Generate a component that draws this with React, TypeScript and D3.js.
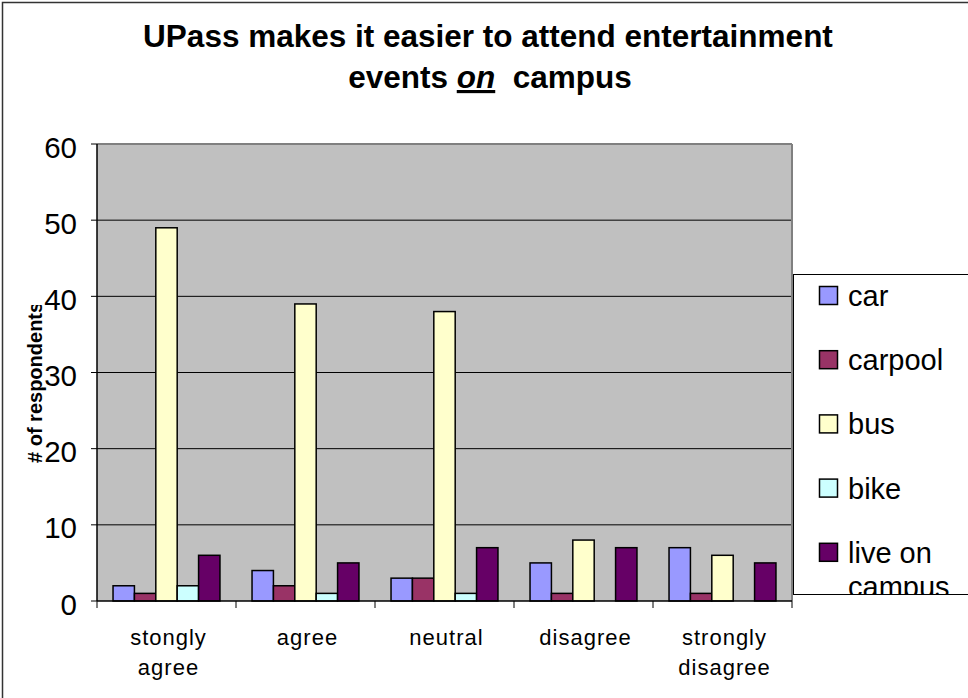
import React from "react";
import * as d3 from "d3";

const categories = ["stongly agree", "agree", "neutral", "disagree", "strongly disagree"];
const categoryLines = [["stongly", "agree"], ["agree"], ["neutral"], ["disagree"], ["strongly", "disagree"]];
const seriesNames = ["car", "carpool", "bus", "bike", "live on campus"];
const legendLines = [["car"], ["carpool"], ["bus"], ["bike"], ["live on", "campus"]];
const car = [2, 4, 3, 5, 7];
const carpool = [1, 2, 3, 1, 1];
const bus = [49, 39, 38, 8, 6];
const bike = [2, 1, 1, 0, 0];
const liveOnCampus = [6, 5, 7, 7, 5];
const seriesValues = [car, carpool, bus, bike, liveOnCampus];
const colors = ["#9999FF", "#993366", "#FFFFCC", "#CCFFFF", "#660066"];
const yTicks = [0, 10, 20, 30, 40, 50, 60];

const FONT = "'Liberation Sans', Arial, sans-serif";

export default function App() {
  const left = 97, right = 792, top = 144, bottom = 601;
  const x = d3.scaleBand<string>().domain(categories).range([left, right]).padding(0);
  const inner = d3.scaleBand<string>().domain(seriesNames).range([0, x.bandwidth()]).paddingInner(0).paddingOuter(0.75);
  const y = d3.scaleLinear().domain([0, 60]).range([bottom, top]);

  return (
    <svg width={968} height={698} style={{ position: "absolute", left: 0, top: 0, fontFamily: FONT }}>
      <defs>
        <clipPath id="ylabclip"><rect x={0} y={305} width={80} height={300} /></clipPath>
        <clipPath id="legclip"><rect x={793} y={274} width={175} height={320} /></clipPath>
      </defs>
      <rect x={0} y={0} width={968} height={698} fill="#ffffff" />
      <rect x={2.5} y={2.5} width={990} height={720} fill="none" stroke="#333" strokeWidth={1.5} />
      {/* title */}
      <text x={488} y={47} textAnchor="middle" fontWeight="bold" fontSize={31.5} fill="#000">
        UPass makes it easier to attend entertainment
      </text>
      <text x={490} y={88} textAnchor="middle" fontWeight="bold" fontSize={31.5} fill="#000">
        events <tspan fontStyle="italic" textDecoration="underline" style={{ textDecoration: "underline" }}>on</tspan>{"\u00a0 "}campus
      </text>
      {/* plot area */}
      <rect x={left} y={top} width={right - left} height={bottom - top} fill="#C0C0C0" />
      {yTicks.filter(t => t > 0 && t < 60).map(t => (
        <line key={t} x1={left} x2={right} y1={y(t)} y2={y(t)} stroke="#000" strokeWidth={1} />
      ))}
      <line x1={left} x2={right} y1={top} y2={top} stroke="#808080" strokeWidth={2} />
      <line x1={right} x2={right} y1={top} y2={bottom} stroke="#808080" strokeWidth={2} />
      {/* bars */}
      {categories.map((c, ci) => (
        <g key={c}>
          {seriesNames.map((s, si) => {
            const v = seriesValues[si][ci];
            if (v <= 0) return null;
            const bx = (x(c) as number) + (inner(s) as number);
            return (
              <rect key={s} x={bx} y={y(v)} width={inner.bandwidth()} height={y(0) - y(v)}
                fill={colors[si]} stroke="#000" strokeWidth={1.5} />
            );
          })}
        </g>
      ))}
      {/* axes */}
      <line x1={left} x2={left} y1={top} y2={bottom} stroke="#000" strokeWidth={1.5} />
      <line x1={left} x2={right} y1={bottom} y2={bottom} stroke="#000" strokeWidth={1.5} />
      {yTicks.map(t => (
        <g key={t}>
          <line x1={left - 6} x2={left} y1={y(t)} y2={y(t)} stroke="#000" strokeWidth={1} />
          <text x={77} y={y(t) + 3} textAnchor="end" dominantBaseline="central" fontSize={29.5} fill="#000">{t}</text>
        </g>
      ))}
      {[...categories.map(c => x(c) as number), right].map((px, i) => (
        <line key={i} x1={px} x2={px} y1={bottom} y2={bottom + 7} stroke="#000" strokeWidth={1} />
      ))}
      {categories.map((c, ci) => (
        <text key={c} textAnchor="middle" fontSize={22} letterSpacing={1} fill="#000">
          {categoryLines[ci].map((ln, li) => (
            <tspan key={li} x={(x(c) as number) + x.bandwidth() / 2 + 2} y={645 + li * 30}>{ln}</tspan>
          ))}
        </text>
      ))}
      {/* y axis label */}
      <g clipPath="url(#ylabclip)">
        <text transform="translate(42,463) rotate(-90)" textAnchor="start" fontWeight="bold" fontSize={20} fill="#000">
          # of respondents
        </text>
      </g>
      {/* legend */}
      <rect x={793.5} y={274.5} width={200} height={320} fill="#fff" stroke="#000" strokeWidth={1} />
      <g clipPath="url(#legclip)">
        {seriesNames.map((s, si) => {
          const base = 306 + si * 64.2;
          return (
            <g key={s}>
              <rect x={819.5} y={base - 19.5} width={18} height={18} fill={colors[si]} stroke="#000" strokeWidth={1.5} />
              <text x={848} y={base} fontSize={29} fill="#000">
                {legendLines[si].map((ln, li) => (
                  <tspan key={li} x={848} y={base + li * 34}>{ln}</tspan>
                ))}
              </text>
            </g>
          );
        })}
      </g>
    </svg>
  );
}
